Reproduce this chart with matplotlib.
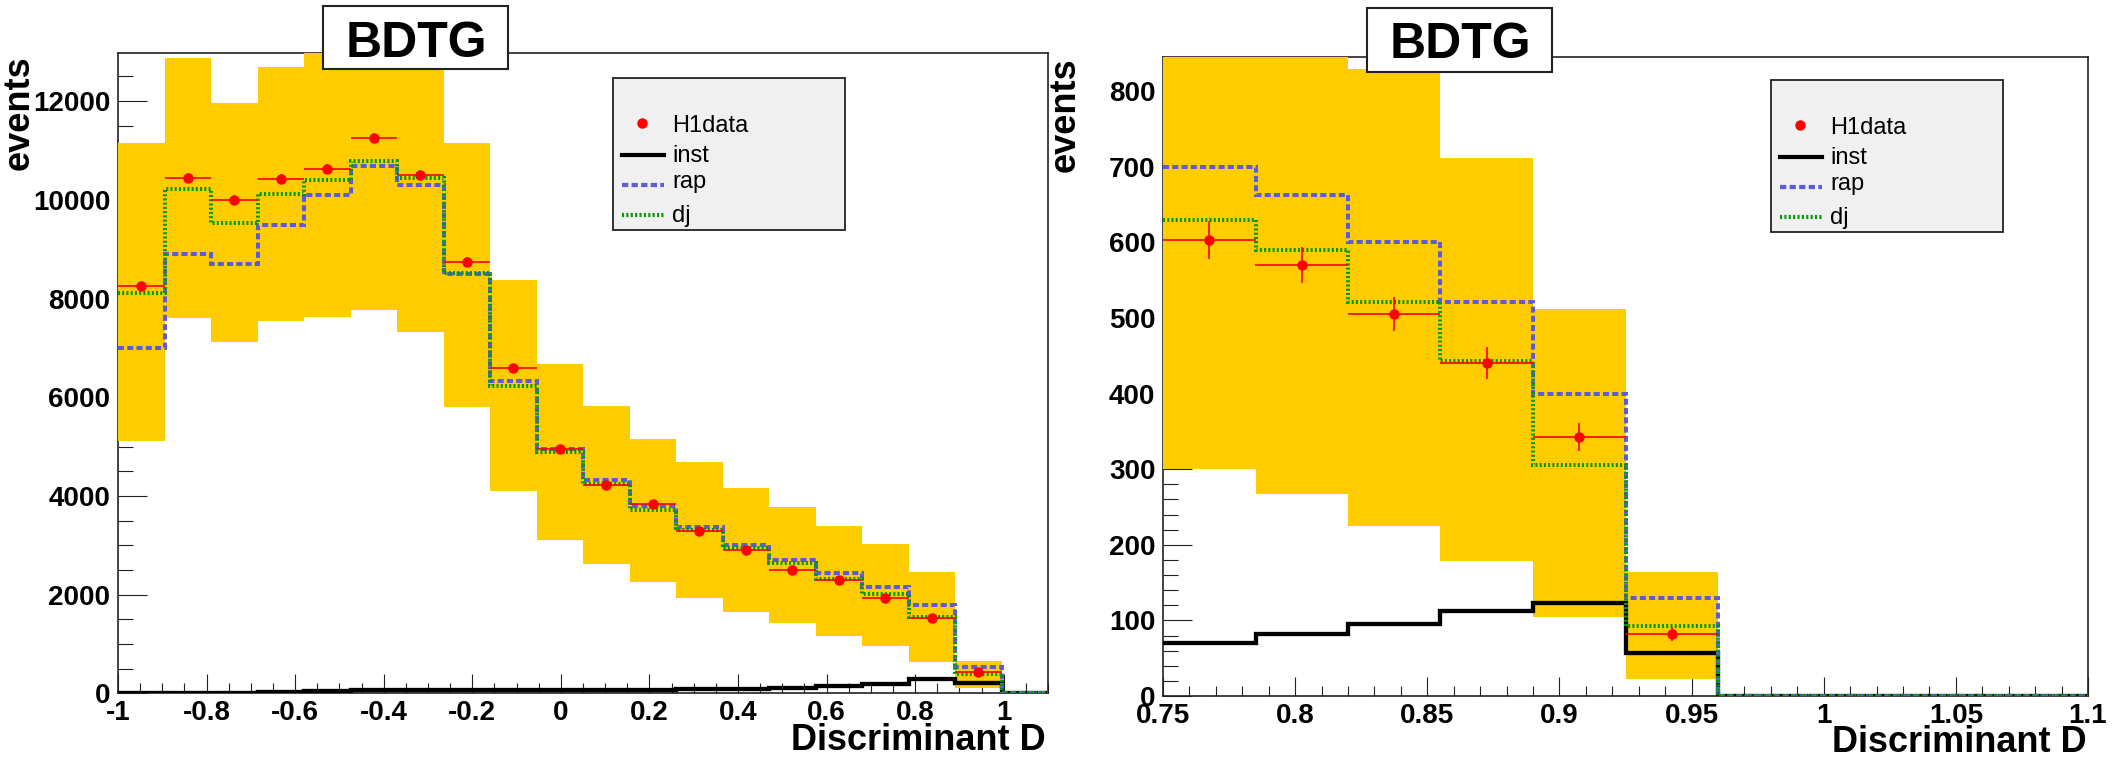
import numpy as np
import matplotlib
matplotlib.use('Agg')
import matplotlib.pyplot as plt
from matplotlib.patches import Rectangle
from matplotlib.lines import Line2D
from matplotlib.ticker import MultipleLocator, FuncFormatter

plt.rcParams['font.family'] = ['Liberation Sans', 'DejaVu Sans']
plt.rcParams['font.weight'] = 'bold'

W, H = 2112, 758

# ---- left panel: D from -1 to 1.1, 20 bins
left_edges = np.linspace(-1.0, 1.1, 21)
left_data = [8250, 10450, 9990, 10430, 10620, 11250, 10500, 8740, 6600, 4950,
             4220, 3830, 3280, 2900, 2490, 2300, 1930, 1520, 440]
left_data_err = [91, 102, 100, 102, 103, 106, 102, 93, 81, 70,
                 65, 62, 57, 54, 50, 48, 44, 39, 21]
left_inst = [5, 15, 15, 20, 45, 60, 60, 60, 60, 60,
             60, 60, 80, 80, 105, 140, 185, 280, 200, 0]
left_rap = [6990, 8900, 8700, 9500, 10100, 10680, 10300, 8490, 6320, 4960,
            4320, 3790, 3380, 3010, 2700, 2440, 2150, 1780, 530, 0]
left_dj = [8120, 10230, 9540, 10110, 10400, 10790, 10440, 8510, 6230, 4900,
           4250, 3720, 3310, 2940, 2640, 2320, 2010, 1550, 400, 0]
left_band_hi = [11150, 12870, 11960, 12690, 13100, 13600, 13300, 11150, 8380, 6670,
                5820, 5160, 4680, 4160, 3780, 3390, 3030, 2450, 650, 0]
left_band_lo = [5110, 7600, 7110, 7550, 7630, 7770, 7330, 5800, 4090, 3110,
                2630, 2250, 1940, 1650, 1430, 1170, 950, 640, 100, 0]

# ---- right panel: D from 0.75 to 1.1, 10 bins
right_edges = np.linspace(0.75, 1.1, 11)
right_data = [603, 570, 505, 440, 342, 82]
right_data_err = [25, 24, 22.5, 21, 18.5, 9]
right_inst = [70, 82, 95, 112, 123, 57, 0, 0, 0, 0]
right_rap = [700, 663, 600, 521, 400, 130, 0, 0, 0, 0]
right_dj = [630, 590, 521, 443, 305, 92, 0, 0, 0, 0]
right_band_hi = [880, 880, 829, 712, 512, 164, 0, 0, 0, 0]
right_band_lo = [300, 267, 225, 178, 105, 22, 0, 0, 0, 0]

YELLOW = '#ffcc00'
BLUE = '#5b5bdb'
GREEN = '#009a00'


def fx(px):
    return px / W


def fy(py):
    return 1 - py / H


fig = plt.figure(figsize=(W / 100, H / 100), dpi=100)
fmt = FuncFormatter(lambda v, p: f'{round(v, 4) + 0.0:g}')


def draw_panel(box, edges, band_hi, band_lo, inst, rap, dj, data, data_err,
               xlim, ylim, xsteps, ysteps):
    left, top, right, bottom = box
    ax = fig.add_axes([fx(left), fy(bottom), (right - left) / W, (bottom - top) / H])

    ax.stairs(band_hi, edges, baseline=band_lo, fill=True, color=YELLOW, lw=0, zorder=2.6)
    ax.stairs(inst, edges, baseline=None, color='black', lw=3.1, zorder=3)
    ax.stairs(rap, edges, baseline=None, color=BLUE, lw=2.9,
              linestyle=(0, (1.5, 0.8)), zorder=3.2)
    ax.stairs(dj, edges, baseline=None, color=GREEN, lw=2.9,
              linestyle=(0, (0.5, 0.55)), zorder=3.4)

    n = len(data)
    centers = (edges[:-1] + edges[1:]) / 2
    half = (edges[1:] - edges[:-1]) / 2
    ax.errorbar(centers[:n], data, xerr=half[:n], yerr=data_err, fmt='o',
                color='red', ms=6.5, lw=1.2, capsize=0, zorder=5)

    ax.set_xlim(*xlim)
    ax.set_ylim(*ylim)
    ax.xaxis.set_major_locator(MultipleLocator(xsteps[0]))
    ax.xaxis.set_minor_locator(MultipleLocator(xsteps[1]))
    ax.yaxis.set_major_locator(MultipleLocator(ysteps[0]))
    ax.yaxis.set_minor_locator(MultipleLocator(ysteps[1]))
    ax.xaxis.set_major_formatter(fmt)
    ax.yaxis.set_major_formatter(fmt)
    ax.tick_params(which='both', direction='in', top=False, right=False,
                   width=0.8, color='#222222', labelsize=20)
    ax.tick_params(axis='x', which='major', length=13.5, pad=5)
    ax.tick_params(axis='x', which='minor', length=7)
    ax.tick_params(axis='y', which='major', length=21, pad=5.5)
    ax.tick_params(axis='y', which='minor', length=11)
    for s in ax.spines.values():
        s.set_linewidth(1.2)
        s.set_color('#222222')
    return ax


def title_box(x0, y0, x1, y1, xc, base):
    fig.add_artist(Rectangle((fx(x0), fy(y1)), (x1 - x0) / W, (y1 - y0) / H,
                             transform=fig.transFigure, facecolor='white',
                             edgecolor='#222222', lw=1.5, zorder=10))
    fig.text(fx(xc), fy(base), 'BDTG', ha='center', va='baseline',
             fontsize=36, weight='bold', zorder=11)


def legend_box(x0, y0, x1, y1):
    fig.add_artist(Rectangle((fx(x0), fy(y1)), (x1 - x0) / W, (y1 - y0) / H,
                             transform=fig.transFigure, facecolor='#f0f0f0',
                             edgecolor='#222222', lw=1.3, zorder=10))
    fig.add_artist(Line2D([fx(x0 + 29)], [fy(y0 + 45)], marker='o', color='red',
                          ms=6.5, transform=fig.transFigure, zorder=11))
    samples = [('black', '-', 77), (BLUE, (0, (1.5, 0.8)), 107), (GREEN, (0, (0.5, 0.55)), 137)]
    for col, ls, dy in samples:
        fig.add_artist(Line2D([fx(x0 + 9), fx(x0 + 51)], [fy(y0 + dy)] * 2, color=col,
                              lw=3, linestyle=ls, transform=fig.transFigure, zorder=11))
    for lab, dy in [('H1data', 54), ('inst', 84), ('rap', 110), ('dj', 144)]:
        fig.text(fx(x0 + 59), fy(y0 + dy), lab, ha='left', va='baseline',
                 fontsize=17, weight='normal', zorder=12)


draw_panel((118, 53.3, 1048, 693.3), left_edges, left_band_hi, left_band_lo,
           left_inst, left_rap, left_dj, left_data, left_data_err,
           (-1.0, 1.1), (0, 12970), (0.2, 0.05), (2000, 500))
draw_panel((1163, 57, 2088, 696), right_edges, right_band_hi, right_band_lo,
           right_inst, right_rap, right_dj, right_data, right_data_err,
           (0.75, 1.1), (0, 845), (0.05, 0.01), (100, 20))

title_box(323, 6, 508, 69, 416, 57)
title_box(1367, 8, 1552, 72, 1460, 58)
legend_box(613, 78, 845, 230)
legend_box(1771, 80, 2003, 232)

for xc, top in [(19.5, 55), (1065, 57)]:
    fig.text(fx(xc), fy(top), 'events', rotation=90, ha='center', va='top',
             fontsize=26, weight='bold')
for xr, base in [(1046, 750), (2087, 752)]:
    fig.text(fx(xr), fy(base), 'Discriminant D', ha='right', va='baseline',
             fontsize=26, weight='bold')

fig.savefig('out.png', dpi=100)
